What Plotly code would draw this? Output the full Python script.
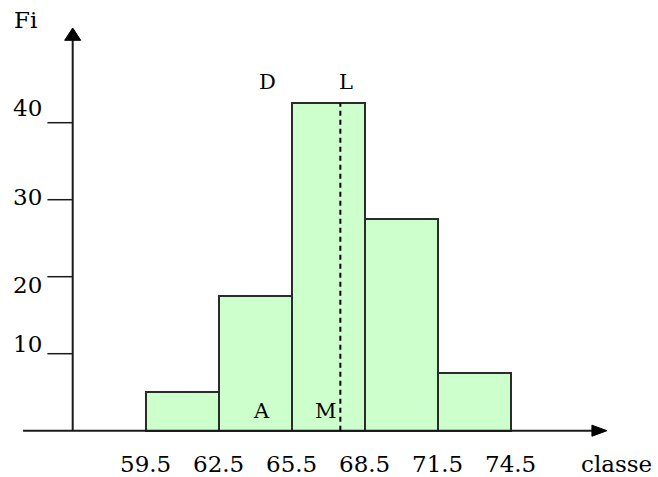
import plotly.graph_objects as go

# Class boundaries (heights in cm) and frequencies
edges = [59.5, 62.5, 65.5, 68.5, 71.5, 74.5]
freqs = [5, 17.5, 42.5, 27.5, 7.5]
edge_labels = ["59.5", "62.5", "65.5", "68.5", "71.5", "74.5"]

y_ticks = [10, 20, 30, 40]
y_tick_labels = ["10", "20", "30", "40"]
y_label_pos = [11.26, 18.92, 30.35, 41.9]   # hand-placed label heights

median_x = 67.5          # dashed line (L-M)
modal_class_top = freqs[2]

# point labels: text, x, y
point_labels = [("D", 64.51, 45.32), ("L", 67.73, 45.32),
                ("A", 64.28, 2.56), ("M", 66.91, 2.56)]

# ---- layout geometry (data units) ----
X0, X1 = 53.512, 80.556
Y0, Y1 = -6.013, 55.935
YAX_X = 56.5
XAX_START, XAX_HEAD, XAX_TIP = 54.46, 77.84, 78.46
YAX_HEAD, YAX_TIP = 50.7, 52.3

centers = [(a + b) / 2 for a, b in zip(edges[:-1], edges[1:])]
widths = [b - a for a, b in zip(edges[:-1], edges[1:])]

FONT = "DejaVu Serif"
INK = "#1a1a1a"

fig = go.Figure()
fig.add_trace(go.Bar(
    x=centers, y=freqs, width=widths,
    marker=dict(color="#CCFFCC", line=dict(color="#2b2b2b", width=2)),
    hoverinfo="skip",
))

shapes = []
# x axis with arrow
shapes.append(dict(type="line", x0=XAX_START, x1=XAX_HEAD, y0=0, y1=0,
                   line=dict(color=INK, width=2)))
shapes.append(dict(type="path",
                   path=f"M {XAX_HEAD} -0.72 L {XAX_TIP} 0 L {XAX_HEAD} 0.72 Z",
                   fillcolor="black", line=dict(color="black", width=1)))
# y axis with arrow
shapes.append(dict(type="line", x0=YAX_X, x1=YAX_X, y0=0, y1=YAX_HEAD,
                   line=dict(color=INK, width=2)))
shapes.append(dict(type="path",
                   path=f"M {YAX_X-0.33} {YAX_HEAD} L {YAX_X} {YAX_TIP} L {YAX_X+0.33} {YAX_HEAD} Z",
                   fillcolor="black", line=dict(color="black", width=1)))
# y ticks (drawn to the left of the axis)
for t in y_ticks:
    shapes.append(dict(type="line", x0=YAX_X - 1.04, x1=YAX_X, y0=t, y1=t,
                       line=dict(color=INK, width=1.5)))
# dashed median line inside the modal class
shapes.append(dict(type="line", x0=median_x, x1=median_x, y0=0, y1=modal_class_top,
                   line=dict(color="black", width=2, dash="5px,4px")))

annotations = []
for lab, yp in zip(y_tick_labels, y_label_pos):
    annotations.append(dict(x=55.3, y=yp, text=lab, xanchor="right", yanchor="middle",
                            showarrow=False, font=dict(family=FONT, size=23, color="black")))
for lab, e in zip(edge_labels, edges):
    annotations.append(dict(x=e, y=-4.32, text=lab, xanchor="center", yanchor="middle",
                            showarrow=False, font=dict(family=FONT, size=23, color="black")))
annotations.append(dict(x=78.87, y=-4.32, text="classe", xanchor="center", yanchor="middle",
                        showarrow=False, font=dict(family=FONT, size=23, color="black")))
annotations.append(dict(x=54.56, y=53.34, text="Fi", xanchor="center", yanchor="middle",
                        showarrow=False, font=dict(family=FONT, size=23, color="black")))
for txt, xx, yy in point_labels:
    annotations.append(dict(x=xx, y=yy, text=txt, xanchor="center", yanchor="middle",
                            showarrow=False, font=dict(family=FONT, size=21, color="black")))

fig.update_layout(
    width=658, height=477,
    margin=dict(l=0, r=0, t=0, b=0),
    paper_bgcolor="white", plot_bgcolor="white",
    showlegend=False, bargap=0,
    xaxis=dict(range=[X0, X1], visible=False, fixedrange=True),
    yaxis=dict(range=[Y0, Y1], visible=False, fixedrange=True),
    shapes=shapes, annotations=annotations,
)

fig.write_html("out.html", config={"displayModeBar": False})
